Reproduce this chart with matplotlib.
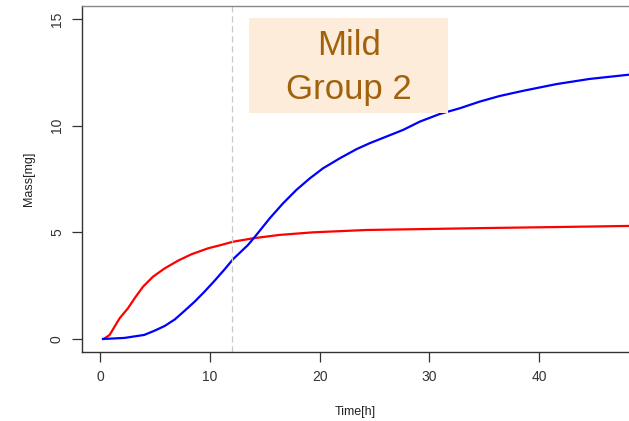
import matplotlib
matplotlib.use("Agg")
import matplotlib.pyplot as plt
from matplotlib.patches import Rectangle

plt.rcParams["font.family"] = ["Liberation Sans", "DejaVu Sans"]

# blue curve
blue_t = [0.24, 2.2, 4.0, 4.95, 5.87, 6.8, 7.7, 8.6, 9.5, 10.4, 11.34, 12.1, 13.47, 14.23,
          15.45, 16.66, 17.88, 19.1, 20.3, 21.83, 23.36, 24.57, 27.6, 29.13, 30.96, 32.8,
          34.6, 36.4, 38.6, 41.6, 44.6, 48.2]
blue_m = [0.0, 0.05, 0.19, 0.39, 0.61, 0.92, 1.33, 1.75, 2.22, 2.72, 3.27, 3.74, 4.41, 4.88,
          5.66, 6.36, 6.99, 7.53, 8.0, 8.47, 8.9, 9.18, 9.8, 10.19, 10.55, 10.82,
          11.13, 11.39, 11.64, 11.95, 12.19, 12.39]

# red curve
red_t = [0.39, 0.85, 1.3, 1.76, 2.52, 3.13, 3.89, 4.8, 5.87, 7.08, 8.3, 9.82, 11.04, 12.1,
         13.92, 16.36, 19.4, 24.27, 29.1, 35.0, 41.9, 48.2]
red_m = [0.03, 0.19, 0.58, 0.97, 1.44, 1.91, 2.45, 2.92, 3.31, 3.67, 3.97, 4.25, 4.41, 4.56,
         4.72, 4.88, 5.0, 5.11, 5.15, 5.2, 5.25, 5.3]

vline_t = 12
x_ticks = [0, 10, 20, 30, 40]
y_ticks = [0, 5, 10, 15]
label_text = "Mild\nGroup 2"
box_x = (13.6, 31.7)
box_y = (10.6, 15.05)

fig = plt.figure(figsize=(6.29, 4.21), dpi=100)
ax = fig.add_axes([82 / 629, 69 / 421, 547 / 629, 346 / 421])

ax.plot(red_t, red_m, color="#ff0000", lw=1.6)
ax.plot(blue_t, blue_m, color="#0000ff", lw=1.6)
ax.axvline(vline_t, color="#c8c8c8", lw=0.9, ls=(0, (5, 3)))

ax.add_patch(Rectangle((box_x[0], box_y[0]), box_x[1] - box_x[0], box_y[1] - box_y[0],
                       facecolor="#fdecda", edgecolor="none", zorder=3))
ax.text(sum(box_x) / 2, sum(box_y) / 2 - 0.1, label_text, ha="center", va="center",
        fontsize=25, color="#a0620c", linespacing=1.45, zorder=4)

ax.set_xlim(-1.67, 48.2)
ax.set_ylim(-0.61, 15.61)
ax.set_xticks(x_ticks)
ax.set_yticks(y_ticks)
ax.set_yticklabels([str(v) for v in y_ticks], rotation=90, va="center")
ax.tick_params(colors="#333333", labelsize=10, length=7, width=0.9, pad=6)

ax.spines["right"].set_visible(False)
ax.spines["top"].set_color("#888888")
ax.spines["left"].set_color("#333333")
ax.spines["bottom"].set_color("#333333")
for s in ax.spines.values():
    s.set_linewidth(1.0)

ax.set_xlabel("Time[h]", fontsize=9, color="#222222", labelpad=16)
ax.set_ylabel("Mass[mg]", fontsize=9, color="#222222", labelpad=11)

fig.savefig("out.png", dpi=100)
